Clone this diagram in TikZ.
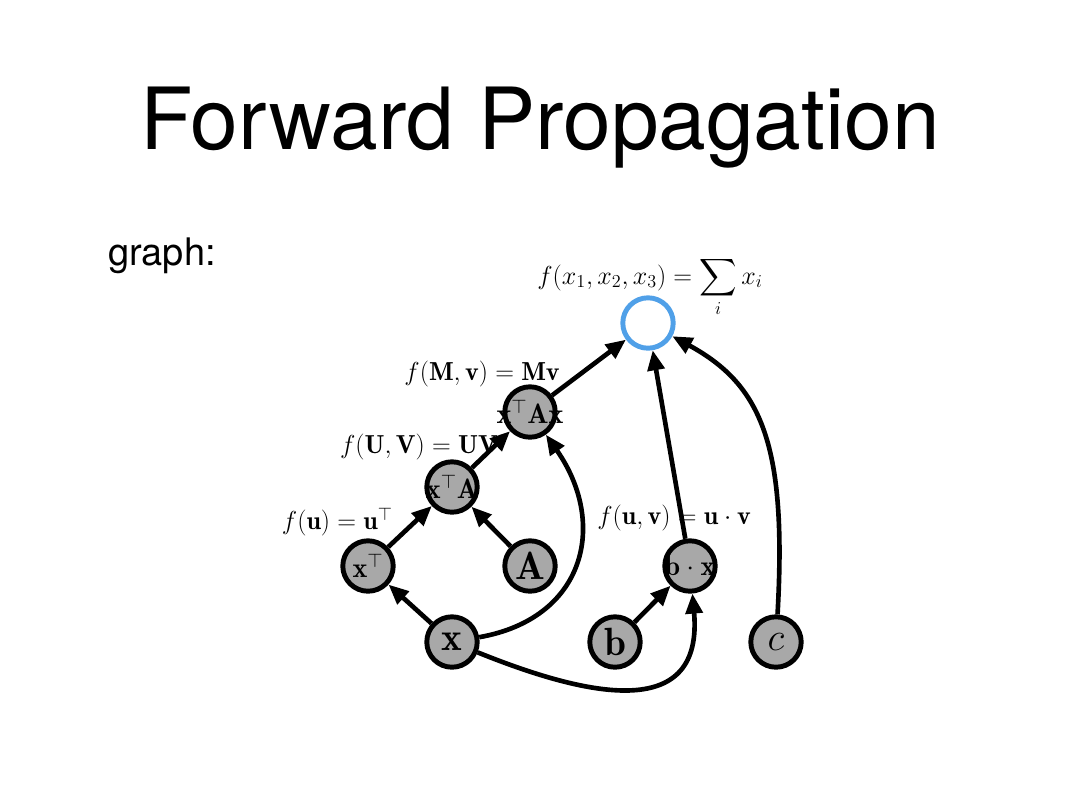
\RequirePackage{fix-cm}
\documentclass[tikz,border=0pt]{standalone}
\usepackage{amsmath, amssymb}
\usepackage{fontspec}
\newfontfamily\slidefont{TeX Gyre Heros}
\usepackage{tikz}
\usetikzlibrary{arrows.meta}
\definecolor{sumblue}{RGB}{80, 160, 232}
\definecolor{opgray}{RGB}{168, 168, 168}
% node text may run over the circle
\newcommand{\optext}[1]{\makebox[0pt]{#1}}

\begin{document}
\begin{tikzpicture}[x=0.025cm, y=-0.025cm, >={Triangle[length=0.5cm, width=0.42cm]},
    op/.style={circle, draw, line width=3.5pt, fill=opgray, minimum size=1.26cm, inner sep=0pt,
               font=\fontsize{20}{20}\selectfont},
    leaf/.style={op, font=\fontsize{28}{28}\selectfont},
    lbl/.style={font=\fontsize{18.5}{18.5}\selectfont, inner sep=0pt},
    edge/.style={->, line width=3.3pt}]
  \useasboundingbox (0,0) rectangle (1080,810);

  \node[font=\slidefont\fontsize{61}{61}\selectfont] (title) at (540,128) {Forward Propagation};
  \node[font=\slidefont\fontsize{27}{27}\selectfont, anchor=base west, inner sep=0pt] (graph) at (108,265) {graph:};

  \node[op, draw=sumblue, fill=white] (sum) at (648,323) {};
  \node[op] (xtax) at (530,412) {\optext{$\mathbf{x}^\top\mathbf{A}\mathbf{x}$}};
  \node[op] (xta)  at (452,487) {\optext{$\mathbf{x}^\top\mathbf{A}$}};
  \node[op] (xt)   at (368,566) {\optext{$\mathbf{x}^\top$}};
  \node[leaf] (a)  at (530,566) {$\mathbf{A}$};
  \node[leaf] (x)  at (452,642) {$\mathbf{x}$};
  \node[leaf] (b)  at (615,642) {$\mathbf{b}$};
  \node[op] (bx)   at (690,566) {\optext{$\mathbf{b}\cdot\mathbf{x}$}};
  \node[leaf] (c)  at (776,642) {$c$};

  \draw[edge] (xtax) -- (sum);
  \draw[edge] (xta) -- (xtax);
  \draw[edge] (xt) -- (xta);
  \draw[edge] (a) -- (xta);
  \draw[edge] (x) -- (xt);
  \draw[edge] (x) to[out=10, in=-55, looseness=1.3] (xtax);
  \draw[edge] (b) -- (bx);
  \draw[edge] (x) to[out=-22, in=-85, looseness=1.45] (bx);
  \draw[edge] (bx) -- (sum);
  \draw[edge] (c) .. controls (787,445) and (762,385) .. (sum);

  % function labels
  \node[lbl] (fsum) at (650,287) {$f(x_1,x_2,x_3) = \displaystyle\sum_i x_i$};
  \node[lbl, anchor=east] (fmv) at (560,374) {$f(\mathbf{M},\mathbf{v}) = \mathbf{M}\mathbf{v}$};
  \node[lbl, anchor=east] (fuv) at (498,447) {$f(\mathbf{U},\mathbf{V}) = \mathbf{U}\mathbf{V}$};
  \node[lbl, anchor=east] (fu) at (393,522) {$f(\mathbf{u}) = \mathbf{u}^\top$};
  \node[lbl, anchor=west] (fdot) at (597,518) {$f(\mathbf{u},\mathbf{v}) = \mathbf{u}\cdot\mathbf{v}$};
\end{tikzpicture}
\end{document}
